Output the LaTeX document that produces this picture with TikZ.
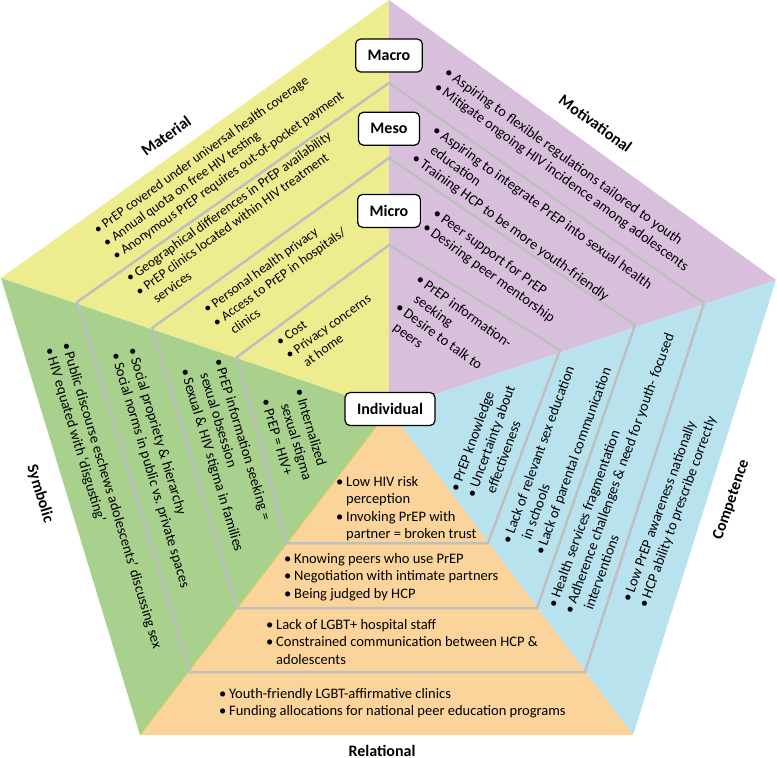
\documentclass[tikz,border=0pt]{standalone}
\usepackage{fontspec}
\setmainfont{Carlito}
\usetikzlibrary{positioning}

\definecolor{matyellow}{RGB}{237,236,143}
\definecolor{motpurple}{RGB}{216,191,220}
\definecolor{comblue}{RGB}{184,226,238}
\definecolor{relorange}{RGB}{251,212,156}
\definecolor{symgreen}{RGB}{169,209,142}
\definecolor{ringgrey}{RGB}{191,191,191}
\definecolor{seamyellow}{RGB}{212,208,92}

\newcommand{\bul}{\makebox[10pt][l]{\textbullet}}
\newcommand{\blist}[1]{\begin{tabular}[t]{@{}l@{}l@{}}#1\end{tabular}}

\tikzset{
  lvlbox/.style={draw, fill=white, rounded corners=5pt, line width=1.2pt,
    font=\bfseries\fontsize{16}{19}\selectfont, inner xsep=12pt, inner ysep=0pt,
    minimum height=33pt},
  dimlabel/.style={font=\bfseries\fontsize{16}{19}\selectfont, inner sep=0pt},
  txt/.style={inner sep=0pt, anchor=base west, font=\fontsize{14.5}{17.5}\selectfont},
  smalltxt/.style={txt, font=\fontsize{13.5}{16.2}\selectfont},
  ringline/.style={draw=ringgrey, line width=2.5pt}
}

\begin{document}
\begin{tikzpicture}[x=1pt,y=-1pt]
\useasboundingbox (0,0) rectangle (777,758);

% outer pentagon and centre
\coordinate (c) at (389,410);
\coordinate (top) at (389,0);
\coordinate (ur) at (776,280);
\coordinate (lr) at (633,735);
\coordinate (ll) at (140,735);
\coordinate (ul) at (1,278);

% the five dimensions
\fill[matyellow] (c) -- (ul) -- (top) -- cycle;
\fill[motpurple] (c) -- (top) -- (ur) -- cycle;
\fill[comblue] (c) -- (ur) -- (lr) -- cycle;
\fill[relorange] (c) -- (lr) -- (ll) -- cycle;
\fill[symgreen] (c) -- (ll) -- (ul) -- cycle;
\draw[seamyellow, line width=0.9pt] (c) -- (ll);

% level rings
\draw[ringline] (389,83) -- (704,303) -- (585,672) -- (190,672) -- (77,302) -- cycle;
\draw[ringline] (389,158) -- (635,325) -- (537,608) -- (237,608) -- (152,328) -- cycle;
\draw[ringline] (389,245) -- (560,350) -- (488,543) -- (287,543) -- (237,357) -- cycle;

% Material
\node[smalltxt, rotate=35.6] (matmacro) at (97.6,234.4) {\blist{\bul & PrEP covered under universal health coverage\\
  \bul & Annual quota on free HIV testing\\ \bul & Anonymous PrEP requires out-of-pocket payment}};
\node[smalltxt, rotate=35.6] (matmeso) at (130,283) {\blist{\bul & Geographical differences in PrEP availability\\
  \bul & PrEP clinics located within HIV treatment\\ & services}};
\node[smalltxt, rotate=35.6] (matmicro) at (207.3,314.1) {\blist{\bul & Personal health privacy\\
  \bul & Access to PrEP in hospitals/\\ & clinics}};
\node[smalltxt, rotate=35.6] (matind) at (280,346.8) {\blist{\bul & Cost\\ \bul & Privacy concerns\\ & at home}};

% Motivational
\node[txt, rotate=-36] (motmacro) at (443.5,74.8) {\blist{\bul & Aspiring to flexible regulations tailored to youth\\
  \bul & Mitigate ongoing HIV incidence among adolescents}};
\node[txt, rotate=-36] (motmeso) at (431.5,132.3) {\blist{\bul & Aspiring to integrate PrEP into sexual health\\
  & education\\ \bul & Training HCP to be more youth-friendly}};
\node[txt, rotate=-36] (motmicro) at (432,215.3) {\blist{\bul & Peer support for PrEP\\ \bul & Desiring peer mentorship}};
\node[txt, rotate=-36] (motind) at (415,281.3) {\blist{\bul & PrEP information-\\ & seeking\\
  \bul & Desire to talk to\\ & peers}};

% Competence
\node[txt, rotate=70] (comind) at (458.6,492.2) {\blist{\bul & PrEP knowledge\\
  \bul & Uncertainty about\\ & effectiveness}};
\node[txt, rotate=70] (commicro) at (510.6,544.2) {\blist{\bul & Lack of relevant sex education\\
  & in schools\\ \bul & Lack of parental communication}};
\node[txt, rotate=70] (commeso) at (556.3,608.2) {\blist{\bul & Health services fragmentation\\
  \bul & Adherence challenges \& need for youth- focused\\ & interventions}};
\node[txt, rotate=70] (commacro) at (630.6,602.7) {\blist{\bul & Low PrEP awareness nationally\\
  \bul & HCP ability to prescribe correctly}};

% Relational
\node[txt] (relind) at (336,486) {\blist{\bul & Low HIV risk\\ & perception\\
  \bul & Invoking PrEP with\\ & partner = broken trust}};
\node[txt] (relmicro) at (284,563) {\blist{\bul & Knowing peers who use PrEP\\
  \bul & Negotiation with intimate partners\\ \bul & Being judged by HCP}};
\node[txt] (relmeso) at (266,629) {\blist{\bul & Lack of LGBT+ hospital staff\\
  \bul & Constrained communication between HCP \&\\ & adolescents}};
\node[txt] (relmacro) at (219,698) {\blist{\bul & Youth-friendly LGBT-affirmative clinics\\
  \bul & Funding allocations for national peer education programs}};

% Symbolic
\node[txt, rotate=-73.3] (symmacro) at (61.6,343.9) {\blist{\bul & Public discourse eschews adolescents’ discussing sex\\
  \bul & HIV equated with ‘disgusting’}};
\node[txt, rotate=-73.3] (symmeso) at (127.9,349.6) {\blist{\bul & Social propriety \& hierarchy\\
  \bul & Social norms in public vs.\ private spaces}};
\node[txt, rotate=-73.3] (symmicro) at (213.9,359.9) {\blist{\bul & PrEP information seeking =\\
  & sexual obsession\\ \bul & Sexual \& HIV stigma in families}};
\node[txt, rotate=-73.3] (symind) at (294.6,390.6) {\blist{\bul & Internalized\\ & sexual stigma\\ \bul & PrEP = HIV+}};

% dimension labels
\node[dimlabel, rotate=35.6] (material) at (166,136) {Material};
\node[dimlabel, rotate=-36] (motivational) at (595.5,123.5) {Motivational};
\node[dimlabel, rotate=71] (competence) at (731.5,500) {Competence};
\node[dimlabel, rotate=-73] (symbolic) at (40,494) {Symbolic};
\node[dimlabel] (relational) at (382,751) {Relational};

% level boxes
\node[lvlbox] (macro) at (389,55.5) {Macro};
\node[lvlbox, below=39pt of macro] (meso) {Meso};
\node[lvlbox, below=48pt of meso] (micro) {Micro};
\node[lvlbox] (individual) at (390,409) {Individual};
\end{tikzpicture}
\end{document}
